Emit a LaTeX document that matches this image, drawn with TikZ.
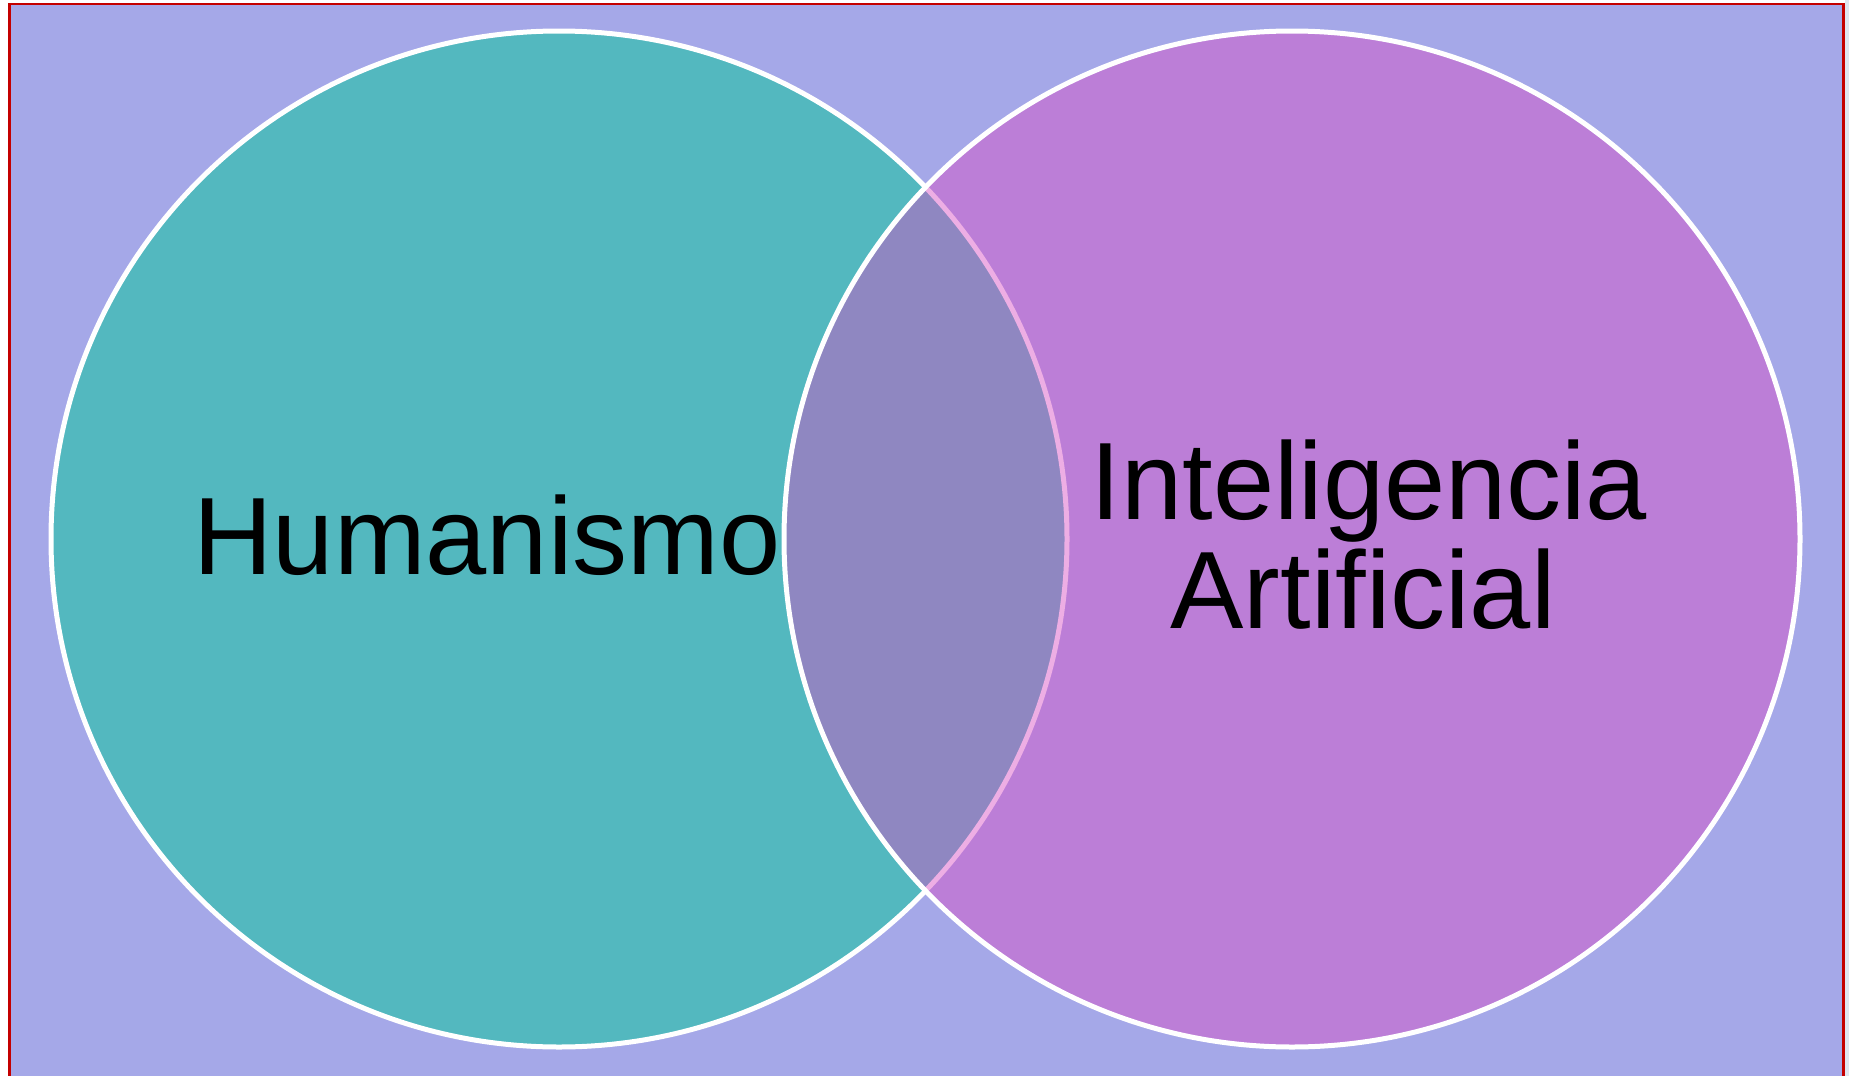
\documentclass[tikz,border=0pt]{standalone}
\usepackage{fontspec}
\setmainfont{Liberation Sans}
\definecolor{bgc}{RGB}{165,168,232}
\definecolor{teal1}{RGB}{83,184,191}
\definecolor{mag}{RGB}{217,77,196}
\definecolor{framered}{RGB}{196,0,0}
\definecolor{strip}{RGB}{224,230,240}
\begin{document}
\begin{tikzpicture}[x=0.5pt,y=-0.5pt,
  venn/.style={circle, draw=white, line width=2.5pt, minimum size=508pt, inner sep=0pt, outer sep=0pt},
  lbl/.style={font=\fontsize{55}{55}\selectfont, anchor=base, inner sep=0pt, text=black}]
\useasboundingbox (0,0) rectangle (1849,1076);
\fill[white] (0,0) rectangle (1849,1076);
\fill[strip] (1845,0) rectangle (1849,1076);
\fill[bgc] (9.5,4) rectangle (1843.5,1076);
\draw[framered, line width=1.1pt] (9.5,1076) -- (9.5,4) -- (1843.5,4) -- (1843.5,1076);
\node[venn, fill=teal1] (hum) at (559,539) {};
\node[venn, fill=mag, fill opacity=0.45] (ia) at (1292,539) {};
\node[lbl] (t1) at (487,574) {Humanismo};
\node[lbl] (t2) at (1369,519) {Inteligencia};
\node[lbl] (t3) at (1363,628.5) {Artificial};
\end{tikzpicture}
\end{document}
